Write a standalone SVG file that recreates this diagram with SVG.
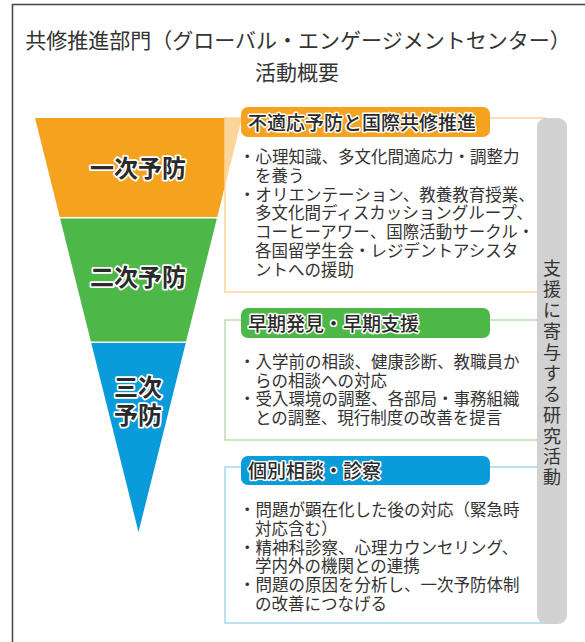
<svg xmlns="http://www.w3.org/2000/svg" width="585" height="642" viewBox="0 0 585 642">
<style>
.t{font-family:"Noto Sans CJK JP","Noto Sans",sans-serif;fill:#333}
.title{font-size:21px}
.body{font-size:16.5px}
.lbl{font-family:"Noto Sans CJK JP",sans-serif;font-size:24px;font-weight:700;fill:#2a2a2a;stroke:#fff;stroke-width:3.5px;paint-order:stroke;stroke-linejoin:round;text-anchor:middle}
.tab{font-family:"Noto Sans CJK JP",sans-serif;font-size:19px;font-weight:500;fill:#2a2a2a;stroke:#fff;stroke-width:3px;paint-order:stroke;stroke-linejoin:round}
.vt{font-family:"Noto Sans CJK JP",sans-serif;font-size:18px;fill:#333;text-anchor:middle}
</style>
<rect x="12.5" y="4.5" width="620" height="700" fill="none" stroke="#444" stroke-width="1.5"/>
<g id="title">
<text class="t title" x="298" y="48" text-anchor="middle">共修推進部門（グローバル・エンゲージメントセンター）</text>
<text class="t title" x="297" y="80" text-anchor="middle">活動概要</text>
</g>
<g id="funnel">
<polygon points="35,118 242,118 217.25,217 59.75,217" fill="#F5A31F"/>
<polygon points="60.1,218.5 216.9,218.5 186.1,341.5 90.9,341.5" fill="#4DB848"/>
<polygon points="91.25,343 185.75,343 138.5,532" fill="#0A9BDA"/>
<text class="lbl" x="138" y="177">一次予防</text>
<text class="lbl" x="138" y="286">二次予防</text>
<text class="lbl" x="138" y="396">三次</text>
<text class="lbl" x="138" y="424">予防</text>
</g>
<g id="box1">
<rect x="225" y="118" width="320" height="174" fill="#fff" fill-opacity="0.55" stroke="#FCD596" stroke-width="1.5"/>
<rect x="241" y="107" width="249" height="30" rx="7" fill="#F5A31F"/>
<text class="tab" x="248" y="129.5">不適応予防と国際共修推進</text>
<text class="t body" x="239" y="163">・心理知識、多文化間適応力・調整力</text>
<text class="t body" x="255" y="181.8">を養う</text>
<text class="t body" x="239" y="200.6">・オリエンテーション、教養教育授業、</text>
<text class="t body" x="255" y="219.4">多文化間ディスカッショングループ、</text>
<text class="t body" x="255" y="238.2">コーヒーアワー、国際活動サークル・</text>
<text class="t body" x="255" y="257">各国留学生会・レジデントアシスタ</text>
<text class="t body" x="255" y="275.8">ントへの援助</text>
</g>
<g id="box2">
<rect x="225" y="320" width="320" height="120" fill="#fff" stroke="#B7E0AF" stroke-width="1.5"/>
<rect x="241" y="308" width="249" height="30" rx="7" fill="#4DB848"/>
<text class="tab" x="248" y="330.5">早期発見・早期支援</text>
<text class="t body" x="239" y="368">・入学前の相談、健康診断、教職員か</text>
<text class="t body" x="255" y="386.7">らの相談への対応</text>
<text class="t body" x="239" y="405.4">・受入環境の調整、各部局・事務組織</text>
<text class="t body" x="255" y="424.1">との調整、現行制度の改善を提言</text>
</g>
<g id="box3">
<rect x="225" y="467" width="320" height="156" fill="#fff" stroke="#A3D7EE" stroke-width="1.5"/>
<rect x="241" y="456" width="249" height="29" rx="7" fill="#0A9BDA"/>
<text class="tab" x="248" y="478">個別相談・診察</text>
<text class="t body" x="239" y="516">・問題が顕在化した後の対応（緊急時</text>
<text class="t body" x="255" y="534.8">対応含む）</text>
<text class="t body" x="239" y="553.6">・精神科診察、心理カウンセリング、</text>
<text class="t body" x="255" y="572.4">学内外の機関との連携</text>
<text class="t body" x="239" y="591.2">・問題の原因を分析し、一次予防体制</text>
<text class="t body" x="255" y="610">の改善につなげる</text>
</g>
<g id="support">
<rect x="537" y="118" width="30" height="506" rx="9" fill="#D2D2D2"/>
<text class="vt" x="552" y="274.5">支</text>
<text class="vt" x="552" y="295.5">援</text>
<text class="vt" x="552" y="316.5">に</text>
<text class="vt" x="552" y="337.5">寄</text>
<text class="vt" x="552" y="358.5">与</text>
<text class="vt" x="552" y="379.5">す</text>
<text class="vt" x="552" y="400.5">る</text>
<text class="vt" x="552" y="421.5">研</text>
<text class="vt" x="552" y="442.5">究</text>
<text class="vt" x="552" y="462.5">活</text>
<text class="vt" x="552" y="483.5">動</text>
</g>
<g id="connectors"></g>
</svg>
